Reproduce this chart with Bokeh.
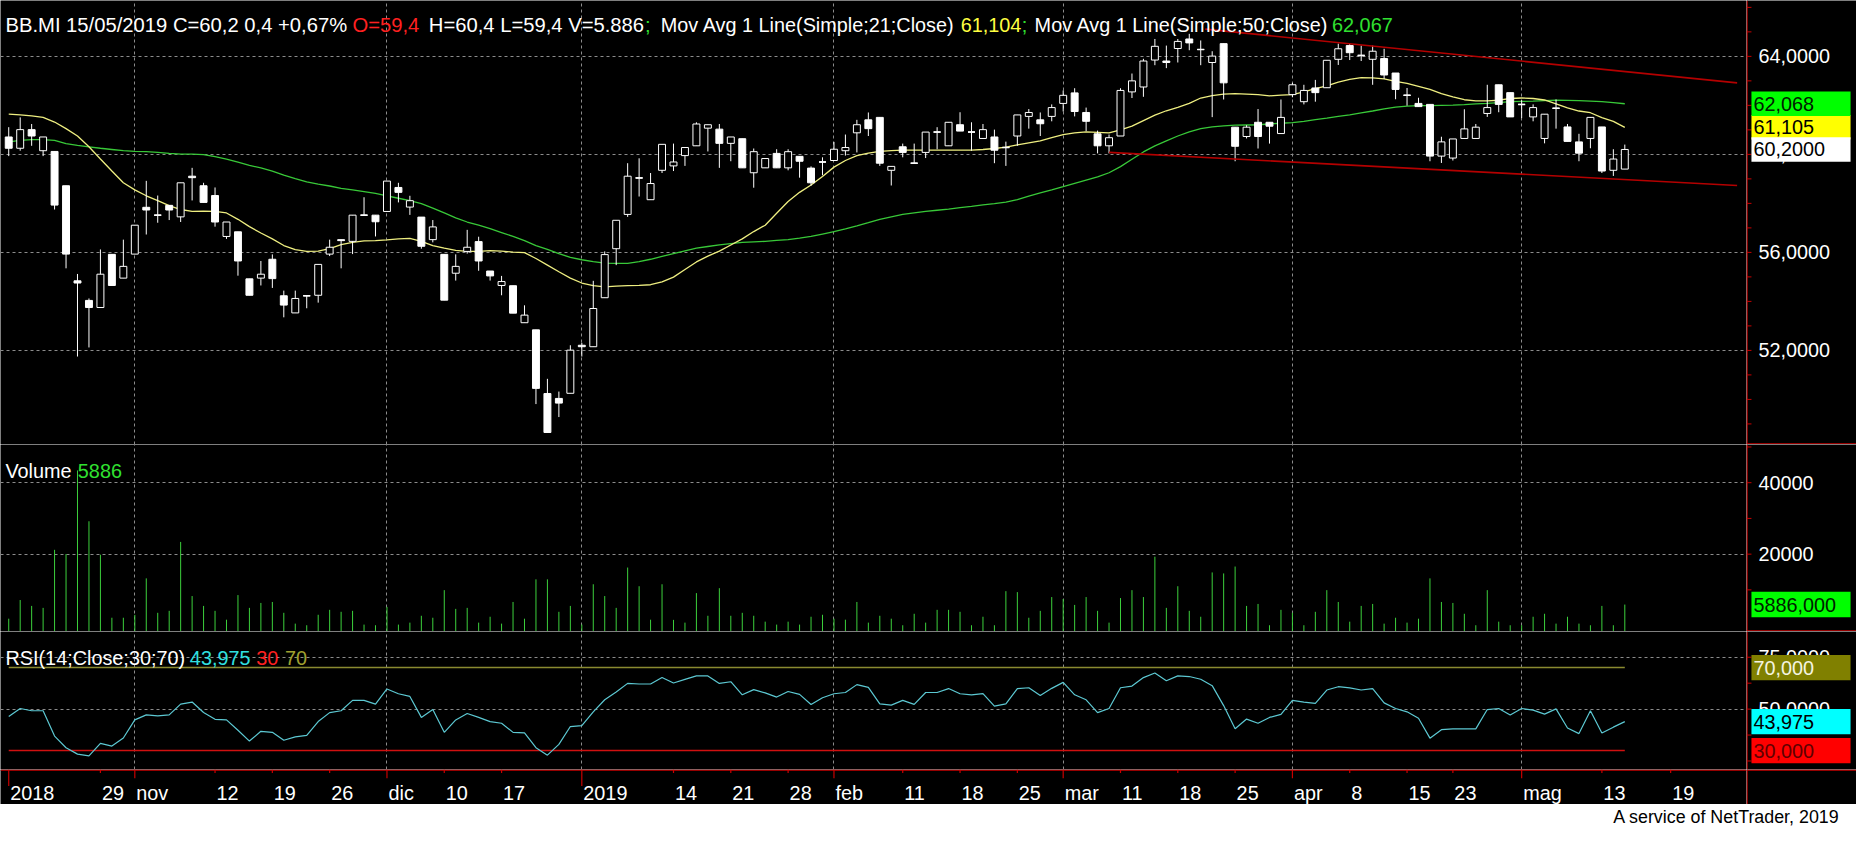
import math
from bokeh.plotting import figure
from bokeh.layouts import column, row
from bokeh.models import Range1d, Grid, FixedTicker
from bokeh.core.properties import value
from bokeh.embed import file_html
from bokeh.resources import INLINE

# ---------------------------------------------------------------- data
opens = [60.71, 60.25, 61.01, 60.15, 60.12, 58.72, 54.84, 54.04, 53.75, 55.92,
         54.95, 55.93, 57.84, 57.52, 57.92, 57.45, 59.11, 58.72, 58.32, 56.65,
         56.84, 54.92, 54.95, 55.72, 54.23, 53.53, 54.23, 54.25, 55.93, 56.52,
         56.45, 57.52, 57.52, 57.67, 58.65, 57.85, 57.44, 56.52, 55.92, 55.15,
         56.04, 56.44, 55.24, 54.65, 54.64, 53.13, 52.84, 50.24, 50.04, 50.25,
         52.21, 52.15, 54.15, 56.15, 57.55, 59.04, 58.15, 59.35, 59.53, 59.95,
         60.35, 61.07, 61.03, 60.45, 60.64, 59.25, 59.45, 60.04, 59.45, 59.92,
         59.44, 59.69, 59.75, 60.15, 60.88, 61.41, 61.51, 59.35, 60.31, 59.64,
         60.08, 60.91, 60.35, 61.21, 60.91, 60.65, 60.71, 60.28, 60.75, 61.55,
         61.41, 61.55, 62.08, 62.51, 61.71, 60.84, 60.35, 60.75, 62.55, 62.75,
         63.85, 63.81, 64.32, 64.71, 64.28, 63.75, 64.52, 61.11, 60.73, 61.31,
         61.31, 60.85, 62.44, 62.15, 62.71, 62.72, 63.88, 64.44, 64.04, 63.88,
         63.91, 63.32, 62.41, 62.08, 62.04, 59.93, 59.85, 60.65, 60.65, 61.67,
         62.84, 62.52, 62.04, 61.53, 60.65, 61.88, 61.12, 60.51, 60.65, 61.12,
         59.35, 59.40]
highs = [61.11, 61.51, 61.24, 60.71, 60.12, 58.72, 55.12, 54.12, 56.12, 55.92,
         56.52, 57.11, 58.92, 58.32, 57.92, 58.84, 59.45, 58.84, 58.65, 57.24,
         56.84, 54.92, 55.65, 55.92, 54.44, 54.44, 54.23, 55.51, 56.52, 56.52,
         57.52, 58.25, 57.52, 58.91, 58.84, 58.31, 57.44, 57.32, 55.92, 55.92,
         56.92, 56.64, 55.24, 55.04, 54.64, 53.84, 52.84, 50.84, 50.32, 52.21,
         52.31, 54.84, 56.04, 57.31, 59.64, 59.84, 59.24, 60.41, 60.44, 60.28,
         61.31, 61.21, 61.24, 60.71, 60.64, 60.24, 59.83, 60.21, 60.21, 59.92,
         59.51, 59.88, 60.51, 60.81, 61.41, 61.71, 61.51, 59.51, 60.44, 60.44,
         60.91, 61.11, 61.31, 61.72, 61.31, 61.24, 61.01, 60.52, 61.61, 61.85,
         61.71, 62.04, 62.61, 62.70, 61.91, 60.97, 60.81, 62.70, 63.30, 63.90,
         64.71, 64.44, 64.71, 64.92, 64.65, 64.21, 64.52, 61.11, 61.19, 61.85,
         61.31, 62.24, 62.92, 62.84, 63.04, 63.84, 64.52, 64.52, 64.44, 64.44,
         64.31, 63.32, 62.71, 62.31, 62.04, 60.72, 60.63, 61.84, 61.24, 62.84,
         62.84, 62.52, 62.21, 62.04, 61.64, 62.24, 61.24, 60.84, 61.51, 61.12,
         60.21, 60.40]
lows = [59.93, 60.15, 60.35, 59.93, 57.75, 55.35, 51.75, 52.12, 53.75, 54.65,
        54.95, 55.93, 56.73, 57.21, 57.32, 57.24, 58.12, 58.04, 57.05, 56.55,
        55.05, 54.25, 54.65, 54.55, 53.35, 53.53, 53.72, 53.95, 55.85, 55.35,
        55.93, 57.52, 56.65, 57.67, 58.04, 57.53, 56.15, 56.41, 54.05, 54.85,
        55.95, 55.25, 54.85, 54.25, 53.52, 53.13, 49.81, 48.65, 49.28, 50.25,
        51.75, 52.15, 54.15, 55.48, 57.45, 58.28, 58.15, 59.24, 59.32, 59.53,
        60.35, 60.12, 59.45, 59.72, 59.45, 58.64, 59.45, 59.45, 59.35, 59.05,
        58.72, 59.15, 59.75, 59.95, 60.08, 60.75, 59.53, 58.73, 59.88, 59.64,
        59.85, 60.21, 60.35, 60.95, 60.15, 60.65, 59.64, 59.53, 60.35, 61.05,
        60.75, 61.35, 61.75, 61.55, 60.95, 60.04, 60.04, 60.75, 62.30, 62.35,
        63.64, 63.52, 63.75, 64.25, 63.64, 61.52, 62.24, 59.72, 60.65, 60.24,
        60.44, 60.85, 62.33, 62.04, 62.15, 62.72, 63.65, 63.85, 63.81, 62.84,
        63.08, 62.25, 61.99, 61.95, 59.72, 59.65, 59.75, 60.65, 60.65, 61.53,
        61.72, 61.53, 61.48, 61.35, 60.45, 61.05, 60.53, 59.72, 60.25, 59.24,
        59.12, 59.40]
closes = [60.25, 61.01, 60.75, 60.71, 57.93, 55.93, 54.75, 53.75, 55.11, 54.65,
          55.43, 57.11, 57.73, 57.52, 57.73, 58.84, 59.05, 58.04, 57.24, 57.24,
          55.65, 54.25, 55.11, 54.93, 53.85, 54.12, 54.23, 55.51, 56.21, 56.48,
          57.52, 57.52, 57.25, 58.91, 58.45, 58.11, 56.25, 57.04, 54.05, 55.43,
          56.21, 55.65, 55.04, 54.81, 53.52, 53.44, 50.45, 48.65, 49.85, 52.01,
          52.15, 53.71, 55.91, 57.31, 59.11, 59.04, 58.81, 60.41, 59.69, 60.28,
          61.24, 61.21, 60.45, 60.71, 59.45, 60.11, 59.83, 59.45, 60.11, 59.72,
          58.84, 59.69, 60.21, 60.28, 61.21, 61.05, 59.64, 59.51, 60.08, 59.64,
          60.91, 60.91, 61.31, 60.95, 60.91, 61.01, 60.17, 60.28, 61.61, 61.71,
          61.25, 61.91, 62.41, 61.75, 61.35, 60.35, 60.68, 62.61, 63.00, 63.81,
          64.41, 63.75, 64.61, 64.55, 64.28, 64.01, 62.92, 60.33, 61.11, 60.73,
          61.15, 61.51, 62.84, 62.61, 62.52, 63.84, 64.31, 64.15, 64.04, 64.21,
          63.24, 62.65, 62.41, 61.95, 59.93, 60.51, 60.63, 61.04, 61.11, 61.91,
          62.04, 61.53, 62.04, 61.91, 61.64, 61.88, 60.53, 60.05, 61.51, 59.32,
          59.81, 60.20]
volumes = [1930, 7160, 5510, 4960, 21210, 20020, 43440, 29200, 19840, 2200,
           2200, 3000, 13220, 3580, 4130, 23420, 8270, 5510, 4130, 1650,
           8540, 4960, 6340, 6610, 3580, 550, 100, 3030, 4410, 3860,
           4130, 280, 100, 5230, 280, 830, 2750, 2200, 9920, 4680,
           4960, 830, 2480, 550, 6610, 1930, 12950, 12950, 3860, 5510,
           300, 11570, 8270, 4960, 16250, 11020, 1650, 11570, 1600, 830,
           9090, 2750, 10470, 2750, 3580, 2750, 1100, 280, 1100, 280,
           2480, 3030, 1930, 1650, 6610, 830, 2750, 1930, 100, 3310,
           830, 4410, 4410, 3860, 100, 2480, 100, 9640, 9370, 2200,
           4130, 7990, 7440, 5790, 7990, 4130, 830, 7710, 9920, 7990,
           19290, 4960, 11020, 4130, 2480, 14880, 14600, 16530, 5510, 6060,
           100, 4410, 3580, 100, 3860, 9920, 6610, 1100, 5510, 6060,
           550, 2200, 830, 1930, 13220, 6610, 6340, 3310, 100, 9920,
           1100, 100, 100, 2480, 3310, 550, 2480, 550, 100, 5510,
           100, 5886]
rsi14 = [46.4, 50.3, 49.2, 49.2, 37.0, 31.4, 28.3, 27.5, 33.5, 32.2,
         36.1, 44.8, 47.2, 46.7, 47.2, 52.4, 53.4, 48.4, 45.1, 44.8,
         39.8, 34.6, 39.3, 38.8, 35.0, 36.6, 37.3, 44.0, 48.3, 49.2,
         54.2, 54.2, 52.4, 59.7, 57.4, 56.1, 46.0, 49.8, 38.8, 44.8,
         47.9, 46.0, 44.0, 43.2, 38.8, 38.5, 31.4, 27.8, 33.0, 41.6,
         42.0, 48.7, 54.5, 58.2, 62.4, 62.1, 62.1, 65.2, 62.6, 64.3,
         66.0, 66.0, 62.4, 63.2, 56.9, 59.4, 57.8, 55.8, 58.5, 57.1,
         52.2, 55.5, 57.4, 58.0, 61.8, 60.5, 52.5, 51.9, 54.2, 52.3,
         58.0, 58.0, 59.9, 57.4, 56.9, 57.5, 51.4, 52.5, 59.9, 60.3,
         56.6, 60.0, 62.9, 56.9, 54.5, 48.3, 50.3, 60.3, 61.1, 65.2,
         67.4, 63.7, 66.0, 65.7, 64.4, 61.3, 51.7, 40.5, 45.2, 43.2,
         46.0, 47.5, 54.2, 53.4, 52.8, 59.2, 60.8, 60.2, 59.2, 59.9,
         53.0, 50.3, 48.7, 45.6, 36.0, 40.1, 40.5, 40.5, 40.5, 49.8,
         50.3, 47.2, 50.3, 49.5, 47.6, 50.1, 40.9, 38.2, 49.2, 38.5,
         41.3, 43.975]
ma21 = [61.64, 61.61, 61.57, 61.51, 61.32, 61.05, 60.75, 60.31, 59.81, 59.32,
        58.84, 58.55, 58.31, 58.11, 57.91, 57.75, 57.67, 57.68, 57.67, 57.61,
        57.35, 57.05, 56.79, 56.55, 56.28, 56.11, 56.04, 56.05, 56.15, 56.32,
        56.41, 56.47, 56.48, 56.51, 56.55, 56.57, 56.45, 56.28, 56.17, 56.08,
        56.04, 56.04, 56.07, 56.05, 56.01, 55.99, 55.75, 55.48, 55.21, 54.95,
        54.75, 54.64, 54.59, 54.62, 54.64, 54.65, 54.68, 54.80, 54.99, 55.30,
        55.61, 55.85, 56.05, 56.30, 56.55, 56.85, 57.11, 57.60, 58.08, 58.45,
        58.75, 59.10, 59.48, 59.75, 59.95, 60.05, 60.12, 60.15, 60.17, 60.17,
        60.17, 60.17, 60.17, 60.17, 60.17, 60.20, 60.24, 60.30, 60.39, 60.47,
        60.55, 60.68, 60.81, 60.88, 60.92, 60.90, 60.88, 61.00, 61.15, 61.38,
        61.60, 61.78, 61.92, 62.08, 62.30, 62.40, 62.46, 62.48, 62.46, 62.44,
        62.39, 62.42, 62.44, 62.55, 62.68, 62.80, 62.95, 63.06, 63.13, 63.12,
        63.08, 62.98, 62.90, 62.78, 62.65, 62.48, 62.35, 62.23, 62.18, 62.18,
        62.21, 62.28, 62.30, 62.28, 62.22, 62.06, 61.90, 61.77, 61.70, 61.50,
        61.35, 61.104]
ma50 = [60.51, 60.57, 60.60, 60.60, 60.57, 60.44, 60.37, 60.31, 60.25, 60.20,
        60.15, 60.12, 60.11, 60.08, 60.04, 60.01, 60.01, 59.99, 59.91, 59.81,
        59.68, 59.55, 59.45, 59.32, 59.15, 59.01, 58.88, 58.79, 58.71, 58.61,
        58.55, 58.48, 58.41, 58.31, 58.21, 58.11, 57.99, 57.81, 57.61, 57.41,
        57.24, 57.11, 56.97, 56.81, 56.65, 56.48, 56.28, 56.12, 55.95, 55.80,
        55.70, 55.62, 55.56, 55.55, 55.55, 55.62, 55.72, 55.84, 55.95, 56.06,
        56.17, 56.24, 56.31, 56.36, 56.41, 56.43, 56.45, 56.49, 56.52, 56.58,
        56.65, 56.75, 56.85, 56.96, 57.08, 57.21, 57.35, 57.45, 57.55, 57.61,
        57.67, 57.72, 57.77, 57.83, 57.88, 57.94, 57.99, 58.05, 58.15, 58.30,
        58.43, 58.55, 58.68, 58.82, 58.95, 59.08, 59.25, 59.50, 59.80, 60.10,
        60.35, 60.55, 60.75, 60.92, 61.05, 61.12, 61.16, 61.19, 61.20, 61.21,
        61.24, 61.27, 61.30, 61.35, 61.42, 61.48, 61.55, 61.61, 61.69, 61.77,
        61.86, 61.93, 61.97, 61.99, 61.99, 62.00, 62.01, 62.03, 62.06, 62.08,
        62.11, 62.15, 62.16, 62.17, 62.19, 62.21, 62.20, 62.19, 62.17, 62.15,
        62.11, 62.067]
trend_up_x = [104.4, 150.8]
trend_up_y = [65.11, 62.92]
trend_dn_x = [96.0, 150.8]
trend_dn_y = [60.08, 58.73]
xtick_idx = [0, 8, 11, 18, 23, 28, 33, 38, 43, 50, 58, 63, 68, 72, 78, 83, 88,
             92, 97, 102, 107, 112, 117, 122, 126, 132, 139, 145]
xtick_labels = ["2018", "29", "nov", "12", "19", "26", "dic", "10", "17", "2019",
                "14", "21", "28", "feb", "11", "18", "25", "mar", "11", "18", "25",
                "apr", "8", "15", "23", "mag", "13", "19"]
price_label_ticks = [52, 56, 60, 64]
vol_label_ticks = [20000, 40000]
rsi_label_ticks = [50, 75]
rsi_levels = [70, 30]
header_a = ["BB.MI 15/05/2019 C=60,2 0,4 +0,67%", "O=59,4", "H=60,4 L=59,4 V=5.886", ";"]
header_b = ["Mov Avg 1 Line(Simple;21;Close)", "61,104", ";", "Mov Avg 1 Line(Simple;50;Close)", "62,067"]
price_box_values = [61.105, 62.068, 60.2]
price_box_texts = ["61,105", "62,068", "60,2000"]
vol_box_value = 5886
vol_box_text = "5886,000"
rsi_box_values = [70, 43.975, 30]
rsi_box_texts = ["70,000", "43,975", "30,000"]
footer_text = "A service of NetTrader, 2019"

# ---------------------------------------------------------------- style / layout
BLACK, WHITE = "#000000", "#ffffff"
RED = "#c80000"
GRIDC = "#8c8c8c"
FONT = "Liberation Sans"
REF_W, REF_H = 1872, 844
W, H = REF_W - 16, REF_H - 16
SX, SY = W / REF_W, H / REF_H
FS = f"{20 * SX:.2f}px"
FSA = f"{20.4 * SX:.2f}px"
FSF = f"{18 * SX:.2f}px"

AXX = 1761                          # x of the price axis in the reference
YB = [0, 453, 643, 784, 820, 844]   # panel boundaries in the reference
X0, DX = 8.3, 11.56                 # bar 0 position and bar spacing (px)


def px2i(px): return (px - X0) / DX
def px2p(py): return 64 - (py - 57) / 25
def px2v(py): return (637 - py) * 275.5
def px2r(py): return 75 - (py - 669.3) / 2.12


cum = [round(y * SY) for y in YB]
cum[-1] = H
hs = [cum[k + 1] - cum[k] for k in range(5)]
wm = round(AXX * SX)
wr = W - wm
RW = REF_W - AXX


def fig(w, h, xr, yr, bg=BLACK):
    return figure(width=w, height=h, x_range=xr, y_range=yr, output_backend="svg",
                  toolbar_location=None, tools="", x_axis_type=None, y_axis_type=None,
                  min_border=0, background_fill_color=bg, border_fill_color=bg,
                  outline_line_color=None)


def grids(p, xt, yt):
    p.add_layout(Grid(dimension=0, ticker=FixedTicker(ticks=xt), grid_line_color=GRIDC,
                      grid_line_dash="3 3", grid_line_width=1))
    p.add_layout(Grid(dimension=1, ticker=FixedTicker(ticks=yt), grid_line_color=GRIDC,
                      grid_line_dash="3 3", grid_line_width=1))


def txt(p, xs, ys, texts, colors, align="left", baseline="alphabetic", size=FS):
    p.text(x=xs, y=ys, text=texts, text_color=colors, text_font=value(FONT),
           text_font_size=size, text_align=align, text_baseline=baseline)


month_idx = [i for i, l in zip(xtick_idx, xtick_labels) if not l.isdigit() or len(l) == 4][1:]

XR = Range1d(px2i(0), px2i(AXX))
PR = Range1d(px2p(YB[1]), px2p(0))
VR = Range1d(px2v(YB[2]), px2v(YB[1]))
RR = Range1d(px2r(YB[3]), px2r(YB[2]))
RR2 = Range1d(px2r(YB[3]), px2r(YB[2]))

# ---------------------------------------------------------------- price panel
pp = fig(wm, hs[0], XR, PR)
grids(pp, month_idx, price_label_ticks)
n = len(closes)
idx = list(range(n))
top = [max(o, c) for o, c in zip(opens, closes)]
bot = [min(o, c) for o, c in zip(opens, closes)]
fill = [BLACK if c > o else WHITE for o, c in zip(opens, closes)]
BW = 7 / DX
pp.line(list(range(len(ma50))), ma50, line_color="#38c838", line_width=1.3)
pp.line(list(range(len(ma21))), ma21, line_color="#eeee80", line_width=1.3)
pp.segment(x0=idx, y0=lows, x1=idx, y1=highs, line_color=WHITE, line_width=1)
pp.vbar(x=idx, width=BW, top=top, bottom=bot, fill_color=fill, line_color=WHITE, line_width=1)
doji = [i for i in idx if abs(opens[i] - closes[i]) < 0.02]
pp.segment(x0=[i - BW / 2 for i in doji], y0=[closes[i] for i in doji],
           x1=[i + BW / 2 for i in doji], y1=[closes[i] for i in doji],
           line_color=WHITE, line_width=1.5)
pp.line(trend_up_x, trend_up_y, line_color="#b40000", line_width=1.6)
pp.line(trend_dn_x, trend_dn_y, line_color="#b40000", line_width=1.6)
hxa = [5, 355, 432, 650]
hca = [WHITE, "#ff2020", WHITE, "#30e030"]
txt(pp, [px2i(v) for v in hxa], [px2p(25)] * len(hxa), header_a, hca, size=FSA)
hxb = [666, 968.5, 1030, 1043, 1343]
hcb = [WHITE, "#ffff40", "#30e030", WHITE, "#30e030"]
txt(pp, [px2i(v) for v in hxb], [px2p(25)] * len(hxb), header_b, hcb, size=FS)

# price axis area
prr = fig(wr, hs[0], Range1d(0, RW), PR)
pt = list(range(math.ceil(PR.start), math.floor(PR.end) + 1))
prr.segment(x0=[0] * len(pt), y0=pt, x1=[5] * len(pt), y1=pt, line_color=RED)
prr.segment(x0=[0.6], y0=[PR.start], x1=[0.6], y1=[PR.end], line_color=RED, line_width=1.2)
prr.segment(x0=[0], y0=[px2p(YB[1] - 0.6)], x1=[RW], y1=[px2p(YB[1] - 0.6)], line_color=RED, line_width=1.2)
txt(prr, [12] * len(price_label_ticks), price_label_ticks,
    [f"{v:.4f}".replace(".", ",") for v in price_label_ticks], [WHITE] * 4, baseline="middle")
pcols = ["#ffff00", "#00ff00", "#ffffff"]
hb = 12.5 / 25
prr.quad(left=[5] * 3, right=[105] * 3, bottom=[v - hb for v in price_box_values],
         top=[v + hb for v in price_box_values], fill_color=pcols, line_color=None)
txt(prr, [7] * 3, price_box_values, price_box_texts, [BLACK, "#002000", BLACK], baseline="middle")

# ---------------------------------------------------------------- volume panel
pv = fig(wm, hs[1], XR, VR)
grids(pv, month_idx, vol_label_ticks)
vi = list(range(len(volumes)))
pv.segment(x0=vi, y0=[VR.start] * len(vi), x1=vi, y1=volumes, line_color="#3cd03c", line_width=1)
txt(pv, [px2i(5), px2i(78)], [px2v(480)] * 2, ["Volume", "5886"], [WHITE, "#30e030"])

pvr = fig(wr, hs[1], Range1d(0, RW), VR)
vt = list(range(10000, int(VR.end), 10000))
pvr.segment(x0=[0] * len(vt), y0=vt, x1=[5] * len(vt), y1=vt, line_color=RED)
pvr.segment(x0=[0.6], y0=[VR.start], x1=[0.6], y1=[VR.end], line_color=RED, line_width=1.2)
pvr.segment(x0=[0], y0=[px2v(YB[2] - 0.6)], x1=[RW], y1=[px2v(YB[2] - 0.6)], line_color=RED, line_width=1.2)
txt(pvr, [12] * 2, vol_label_ticks, [str(v) for v in vol_label_ticks], [WHITE] * 2, baseline="middle")
vh = 13 * 275.5
pvr.quad(left=[5], right=[105], bottom=[vol_box_value - vh], top=[vol_box_value + vh],
         fill_color="#00ff00", line_color=None)
txt(pvr, [7], [vol_box_value], [vol_box_text], ["#002000"], baseline="middle")

# ---------------------------------------------------------------- RSI panel
pr = fig(wm, hs[2], XR, RR)
grids(pr, month_idx, rsi_label_ticks)
ri = list(range(len(rsi14)))
pr.line([ri[0], ri[-1]], [rsi_levels[0]] * 2, line_color="#8a8a30", line_width=1.5)
pr.line([ri[0], ri[-1]], [rsi_levels[1]] * 2, line_color="#d01010", line_width=1.5)
pr.line(ri, rsi14, line_color="#5cc8d2", line_width=1.2)
txt(pr, [px2i(v) for v in (5, 191, 258, 287)], [px2r(670)] * 4,
    ["RSI(14;Close;30;70)", "43,975", "30", "70"], [WHITE, "#30e0e0", "#ff2020", "#a0a030"])

prr2 = fig(wr, hs[2], Range1d(0, RW), RR2)
rt = [v for v in (25, 37.5, 50, 62.5, 75, 87.5) if RR2.start < v < RR2.end - 0.5]
prr2.segment(x0=[0] * len(rt), y0=rt, x1=[5] * len(rt), y1=rt, line_color=RED)
prr2.segment(x0=[0.6], y0=[RR2.start], x1=[0.6], y1=[RR2.end], line_color=RED, line_width=1.2)
txt(prr2, [12] * 2, rsi_label_ticks, [f"{v:.4f}".replace(".", ",") for v in rsi_label_ticks],
    [WHITE] * 2, baseline="middle")
rh = 13 / 2.12
prr2.quad(left=[5] * 3, right=[105] * 3, bottom=[v - rh for v in rsi_box_values],
          top=[v + rh for v in rsi_box_values], fill_color=["#808000", "#00ffff", "#ff0000"],
          line_color=None)
txt(prr2, [7] * 3, rsi_box_values, rsi_box_texts, ["#f4f4e0", BLACK, "#600000"], baseline="middle")

# ---------------------------------------------------------------- x axis strip
XH = YB[4] - YB[3]
px_ = fig(wm, hs[3], XR, Range1d(XH, 0))
px_.segment(x0=[XR.start], y0=[0.6], x1=[XR.end], y1=[0.6], line_color=RED, line_width=1.2)
tlen = [17 if (l.isdigit() and len(l) == 4) else (3.5 if l.isdigit() else 9) for l in xtick_labels]
px_.segment(x0=xtick_idx, y0=[0] * len(xtick_idx), x1=xtick_idx, y1=tlen, line_color=RED, line_width=1.2)
txt(px_, [i + 1.5 / DX for i in xtick_idx], [24] * len(xtick_idx), xtick_labels, [WHITE] * len(xtick_idx))

pxr = fig(wr, hs[3], Range1d(0, RW), Range1d(XH, 0))
pxr.segment(x0=[0.6], y0=[0], x1=[0.6], y1=[XH], line_color=RED, line_width=1.2)
pxr.segment(x0=[0], y0=[0.6], x1=[RW], y1=[0.6], line_color=RED, line_width=1.2)

# ---------------------------------------------------------------- footer
FH = YB[5] - YB[4]
pf = fig(W, hs[4], Range1d(0, REF_W), Range1d(FH, 0), bg=WHITE)
txt(pf, [1855], [FH / 2], [footer_text], [BLACK], align="right", baseline="middle", size=FSF)

p = column(row(pp, prr), row(pv, pvr), row(pr, prr2), row(px_, pxr), pf)
open("out.html", "w").write(file_html(p, INLINE))
